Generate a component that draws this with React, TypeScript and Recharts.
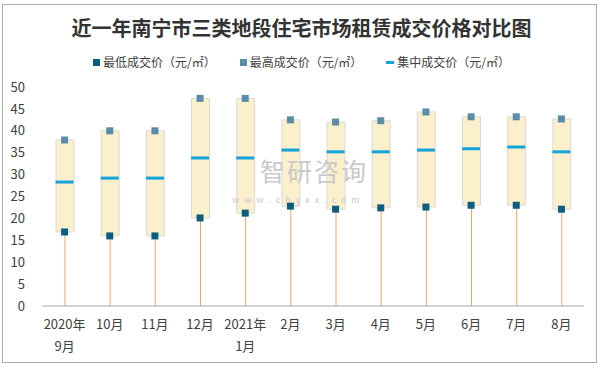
import React from 'react';
import { ComposedChart, Bar, Line, XAxis, YAxis } from 'recharts';

const months = ['2020年\n9月', '10月', '11月', '12月', '2021年\n1月', '2月', '3月', '4月', '5月', '6月', '7月', '8月'];
const lowPrice = [16.9, 16.0, 16.0, 20.1, 21.2, 22.8, 22.1, 22.4, 22.6, 23.0, 23.0, 22.1];
const highPrice = [37.9, 40.0, 40.0, 47.4, 47.4, 42.5, 42.0, 42.3, 44.3, 43.2, 43.2, 42.7];
const midPrice = [28.3, 29.2, 29.2, 33.8, 33.8, 35.6, 35.2, 35.2, 35.6, 35.9, 36.3, 35.2];
const yTicks = [0, 5, 10, 15, 20, 25, 30, 35, 40, 45, 50];

const title = '近一年南宁市三类地段住宅市场租赁成交价格对比图';
const seriesNames = ['最低成交价（元/㎡）', '最高成交价（元/㎡）', '集中成交价（元/㎡）'];

const LOW_COLOR = '#0B5E80';
const HIGH_COLOR = '#5A8CA8';
const MID_COLOR = '#14A3DA';
const DROP_COLOR = '#F2A561';
const BOX_FILL = '#FCEFCC';
const BOX_STROKE = '#DADADA';
const TEXT = '#404040';
const FONT = '"Noto Sans CJK SC", "Noto Sans", sans-serif';

const data = months.map((m, i) => ({
  month: m,
  low: lowPrice[i],
  span: +(highPrice[i] - lowPrice[i]).toFixed(2),
  high: highPrice[i],
  mid: midPrice[i],
}));

const DropLine = (props: any) => {
  const { x, y, width, height } = props;
  if (x == null || y == null) return null;
  const cx = x + width / 2;
  return <line x1={cx} x2={cx} y1={y} y2={y + height} stroke={DROP_COLOR} strokeWidth={1} />;
};

const squareDot = (color: string) => (props: any) => {
  const { cx, cy, index } = props;
  if (cx == null || cy == null) return <g key={index} />;
  return <rect key={index} x={cx - 3.5} y={cy - 3.5} width={7} height={7} fill={color} />;
};

const dashDot = (props: any) => {
  const { cx, cy, index } = props;
  if (cx == null || cy == null) return <g key={index} />;
  return <rect key={index} x={cx - 9} y={cy - 1.5} width={18} height={3} fill={MID_COLOR} />;
};

const XTick = (props: any) => {
  const { x, y, payload } = props;
  const lines = String(payload.value).split('\n');
  return (
    <text x={x} y={y} textAnchor="middle" fill={TEXT} fontSize={13} fontFamily={FONT}>
      {lines.map((l, i) => (
        <tspan key={i} x={x} dy={i === 0 ? 15 : 22}>
          {l}
        </tspan>
      ))}
    </text>
  );
};

const LegendMarker = ({ kind }: { kind: number }) => {
  if (kind === 2) {
    return <span style={{ display: 'inline-block', width: 8, height: 3, background: MID_COLOR, marginRight: 3 }} />;
  }
  return (
    <span
      style={{
        display: 'inline-block',
        width: 7,
        height: 7,
        background: kind === 0 ? LOW_COLOR : HIGH_COLOR,
        marginRight: 3,
      }}
    />
  );
};

export default function App() {
  return (
    <div style={{ position: 'absolute', left: 0, top: 0, width: 603, height: 368, background: '#fff', fontFamily: FONT }}>
      <div
        style={{
          position: 'absolute',
          left: 2,
          top: 4,
          width: 595,
          height: 359,
          border: '1px solid #ABABAB',
          boxSizing: 'border-box',
        }}
      />
      <div
        style={{
          position: 'absolute',
          left: 0,
          top: 14,
          width: 603,
          textAlign: 'center',
          fontSize: 20,
          fontWeight: 'bold',
          color: '#333',
          lineHeight: '28px',
        }}
      >
        {title}
      </div>
      <div
        style={{
          position: 'absolute',
          left: 0,
          top: 53,
          width: 603,
          display: 'flex',
          justifyContent: 'center',
          gap: 24,
          fontSize: 12,
          color: TEXT,
          lineHeight: '18px',
        }}
      >
        {seriesNames.map((n, i) => (
          <div key={i} style={{ display: 'flex', alignItems: 'center' }}>
            <LegendMarker kind={i} />
            <span>{n}</span>
          </div>
        ))}
      </div>
      <div style={{ position: 'absolute', left: 0, top: 0 }}>
        <ComposedChart width={603} height={368} data={data} margin={{ top: 87, right: 19, bottom: 32, left: 0 }}>
          <XAxis
            dataKey="month"
            interval={0}
            tickLine={false}
            axisLine={{ stroke: '#A6A6A6' }}
            tick={<XTick />}
            height={30}
          />
          <YAxis
            domain={[0, 50]}
            ticks={yTicks}
            width={42}
            axisLine={false}
            tickLine={false}
            tickMargin={11}
            tick={{ fill: TEXT, fontSize: 13, fontFamily: FONT }}
          />
          <Bar dataKey="low" stackId="a" barSize={18} shape={<DropLine />} isAnimationActive={false} />
          <Bar dataKey="span" stackId="a" barSize={18} fill={BOX_FILL} stroke={BOX_STROKE} strokeWidth={1} isAnimationActive={false} />
          <Line dataKey="low" stroke="none" dot={squareDot(LOW_COLOR)} activeDot={false} isAnimationActive={false} />
          <Line dataKey="high" stroke="none" dot={squareDot(HIGH_COLOR)} activeDot={false} isAnimationActive={false} />
          <Line dataKey="mid" stroke="none" dot={dashDot} activeDot={false} isAnimationActive={false} />
        </ComposedChart>
      </div>
      <div
        style={{
          position: 'absolute',
          left: 260,
          top: 158,
          fontSize: 25,
          lineHeight: '25px',
          color: '#C9C9C9',
          letterSpacing: 2,
          pointerEvents: 'none',
        }}
      >
        智研咨询
      </div>
      <div
        style={{
          position: 'absolute',
          left: 232,
          top: 195,
          fontSize: 9,
          lineHeight: '9px',
          color: '#C9C9C9',
          letterSpacing: 5,
          pointerEvents: 'none',
        }}
      >
        www.chyxx.com
      </div>
    </div>
  );
}
